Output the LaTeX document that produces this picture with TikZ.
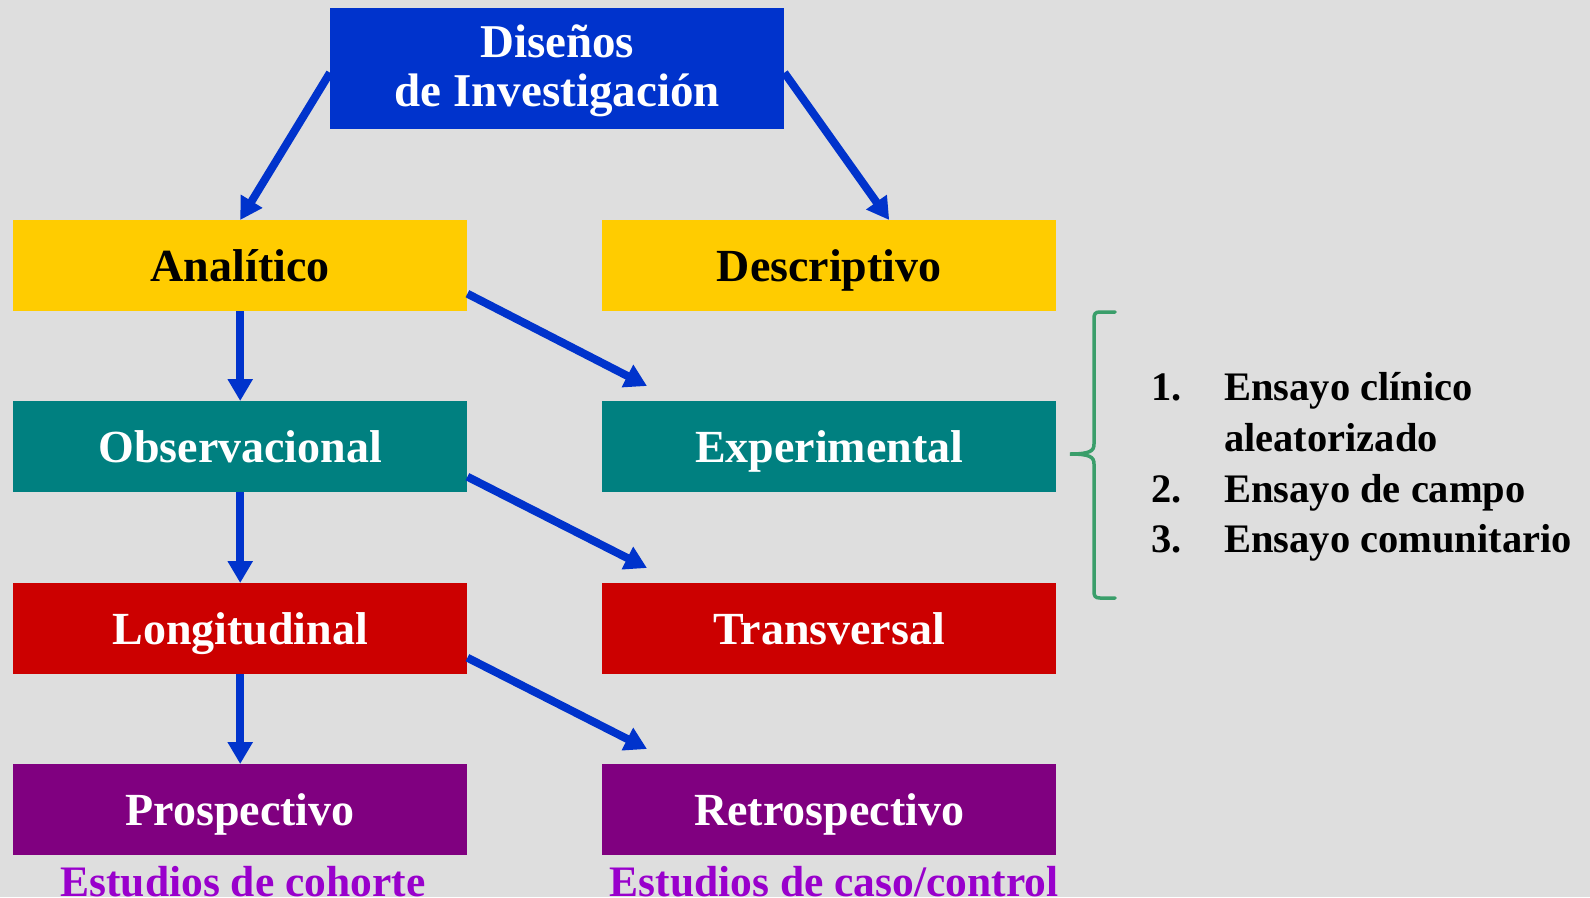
\documentclass[tikz,border=0pt]{standalone}
\usepackage{fontspec}
\setmainfont{Liberation Serif}
\usetikzlibrary{arrows.meta}
\definecolor{bg}{HTML}{DEDEDE}
\definecolor{cblue}{HTML}{0033CC}
\definecolor{cyellow}{HTML}{FFCC00}
\definecolor{cteal}{HTML}{008080}
\definecolor{cred}{HTML}{CC0000}
\definecolor{cpurple}{HTML}{800080}
\definecolor{clabel}{HTML}{9900CC}
\definecolor{cgreen}{HTML}{3A9E6A}
\tikzset{
  box/.style={anchor=north west, minimum width=454pt, minimum height=91pt, inner sep=0pt,
    font=\fontsize{46}{49}\selectfont\bfseries, text height=31pt, text depth=0pt},
  arr/.style={draw=cblue, line width=8pt, -{Triangle[length=22pt,width=24pt]}},
  listtxt/.style={anchor=base west, inner sep=0pt, font=\fontsize{40.5}{50}\selectfont\bfseries, text=black},
  lbl/.style={anchor=base, inner sep=0pt, font=\fontsize{43.5}{50}\selectfont\bfseries, text=clabel},
}
\begin{document}
\begin{tikzpicture}[x=1pt, y=-1pt]
\useasboundingbox (0,0) rectangle (1590,897);
\fill[bg] (0,0) rectangle (1590,897);
% top
\node[anchor=north west, minimum width=454pt, minimum height=121pt, inner sep=0pt, fill=cblue,
  text=white, align=center, font=\fontsize{47}{49}\selectfont\bfseries,
  text height=80pt, text depth=5pt] (top) at (330,8) {Diseños\\de Investigación};
% boxes
\node[box, fill=cyellow, text=black] (ana) at (13,220) {Analítico};
\node[box, fill=cyellow, text=black] (des) at (602,220) {Descriptivo};
\node[box, fill=cteal, text=white] (obs) at (13,401) {Observacional};
\node[box, fill=cteal, text=white] (exp) at (602,401) {Experimental};
\node[box, fill=cred, text=white] (lon) at (13,583) {Longitudinal};
\node[box, fill=cred, text=white] (tra) at (602,583) {Transversal};
\node[box, fill=cpurple, text=white] (pro) at (13,764) {Prospectivo};
\node[box, fill=cpurple, text=white] (ret) at (602,764) {Retrospectivo};
% arrows
\draw[arr] ([yshift=-4pt]top.west) -- (ana.north);
\draw[arr] ([yshift=-4pt]top.east) -- ([xshift=60pt]des.north);
\draw[arr] (ana.south) -- (obs.north);
\draw[arr] (obs.south) -- (lon.north);
\draw[arr] (lon.south) -- (pro.north);
\draw[arr] ([yshift=-28pt]ana.east) -- ([xshift=45pt,yshift=15pt]exp.north west);
\draw[arr] ([yshift=-30pt]obs.east) -- ([xshift=45pt,yshift=15pt]tra.north west);
\draw[arr] ([yshift=-29pt]lon.east) -- ([xshift=45pt,yshift=15pt]ret.north west);
% labels under
\node[lbl] (lbla) at (243,896) {Estudios de cohorte};
\node[lbl] (lblb) at (834,896) {Estudios de caso/control};
% bracket
\draw[cgreen, line width=3.5pt, line cap=round]
  (1115,312) -- (1100,312) .. controls (1095,312) and (1094,314) .. (1094,319)
  -- (1094,444) .. controls (1094,451) and (1090,454) .. (1070,454)
  .. controls (1090,454) and (1094,457) .. (1094,464)
  -- (1094,591) .. controls (1094,596) and (1095,598) .. (1100,598) -- (1115,598);
% list
\node[listtxt] (n1) at (1151,400) {1.};
\node[listtxt] (t1) at (1224,400) {Ensayo clínico};
\node[listtxt] (t1b) at (1224,451) {aleatorizado};
\node[listtxt] (n2) at (1151,502) {2.};
\node[listtxt] (t2) at (1224,502) {Ensayo de campo};
\node[listtxt] (n3) at (1151,552) {3.};
\node[listtxt] (t3) at (1224,552) {Ensayo comunitario};
\end{tikzpicture}
\end{document}
